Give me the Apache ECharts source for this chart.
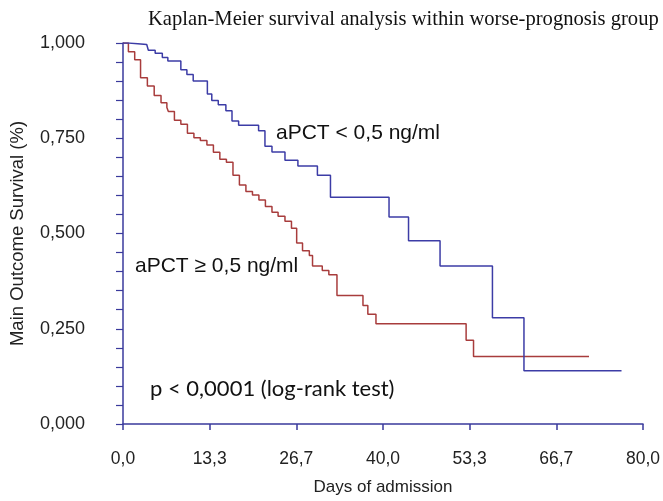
<!DOCTYPE html>
<html>
<head>
<meta charset="utf-8">
<script src="https://cdn.jsdelivr.net/npm/echarts@6/dist/echarts.min.js"></script>
<style>html,body{margin:0;padding:0;background:#fff}#c{width:663px;height:501px}</style>
</head>
<body>
<div id="c"></div>
<script>
// Data (days, survival proportion)
var lowDays = [0, 0.9, 3.65, 3.9, 4.95, 6.05, 6.9, 8.9, 9.83, 10.8, 12.98, 13.66, 14.66, 15.83, 16.77, 17.79, 20.86, 21.84, 22.92, 24.92, 26.91, 29.91, 31.92, 40.93, 43.93, 48.78, 56.84, 61.69, 76.7];
var lowSurv = [1.000, 0.996, 0.991, 0.981, 0.973, 0.962, 0.953, 0.930, 0.917, 0.900, 0.866, 0.849, 0.838, 0.822, 0.795, 0.784, 0.770, 0.729, 0.714, 0.692, 0.677, 0.653, 0.595, 0.543, 0.481, 0.415, 0.279, 0.140, 0.140];
var highDays = [0, 0.83, 1.8, 2.7, 3.75, 4.8, 5.85, 6.75, 6.98, 7.91, 8.9, 9.91, 10.91, 11.9, 12.91, 13.91, 14.9, 15.91, 16.92, 17.91, 18.91, 19.92, 20.91, 21.91, 22.92, 23.86, 24.92, 25.92, 26.72, 27.62, 28.67, 29.16, 30.66, 31.67, 32.92, 36.92, 37.67, 38.92, 52.79, 53.93, 71.7];
var highSurv = [1.000, 0.977, 0.956, 0.909, 0.887, 0.862, 0.843, 0.831, 0.820, 0.797, 0.787, 0.763, 0.751, 0.744, 0.732, 0.713, 0.695, 0.687, 0.653, 0.627, 0.610, 0.601, 0.588, 0.571, 0.556, 0.545, 0.532, 0.514, 0.475, 0.455, 0.442, 0.415, 0.403, 0.392, 0.337, 0.311, 0.288, 0.263, 0.220, 0.177, 0.177];
var xTickLabels = ['0,0', '13,3', '26,7', '40,0', '53,3', '66,7', '80,0'];
var yTickLabels = ['0,000', '0,250', '0,500', '0,750', '1,000'];
var titleText = 'Kaplan-Meier survival analysis within worse-prognosis group';
var lowLabel = 'aPCT < 0,5 ng/ml';
var highLabel = 'aPCT \u2265 0,5 ng/ml';
var pLabel = 'p < 0,0001 (log-rank test)';

function zip(a, b) { return a.map(function (v, i) { return [v, b[i]]; }); }

var axisBlue = '#3a3a9c';
var chart = echarts.init(document.getElementById('c'), null, { renderer: 'canvas' });
chart.setOption({
  animation: false,
  backgroundColor: '#ffffff',
  title: {
    text: titleText, left: 143, top: 4,
    textStyle: { fontFamily: 'Liberation Serif', fontSize: 20.6, fontWeight: 'normal', color: '#111' }
  },
  grid: { left: 119, right: 11, top: 43, bottom: 73, containLabel: false },
  xAxis: {
    type: 'value', min: 0, max: 80, interval: 80 / 6,
    name: 'Days of admission', nameLocation: 'middle', nameGap: 55,
    nameTextStyle: { fontFamily: 'Liberation Sans', fontSize: 17, color: '#222' },
    axisLine: { show: true, lineStyle: { color: axisBlue, width: 1.5 } },
    axisTick: { show: true, length: 6, lineStyle: { color: axisBlue, width: 1.5 } },
    axisLabel: {
      margin: 26, fontFamily: 'Liberation Sans', fontSize: 17.5, color: '#222',
      formatter: function (v) { return xTickLabels[Math.round(v / (80 / 6))]; }
    },
    splitLine: { show: false }
  },
  yAxis: {
    type: 'value', min: 0, max: 1, interval: 0.25,
    name: 'Main Outcome Survival (%)', nameLocation: 'middle', nameGap: 96,
    nameTextStyle: { fontFamily: 'Liberation Sans', fontSize: 18.5, color: '#222' },
    axisLine: { show: true, lineStyle: { color: axisBlue, width: 1.5 } },
    axisTick: { show: true, length: 7, lineStyle: { color: axisBlue, width: 1.2 } },
    minorTick: { show: true, splitNumber: 5, length: 7, lineStyle: { color: axisBlue, width: 1.2 } },
    axisLabel: {
      margin: 38, fontFamily: 'Liberation Sans', fontSize: 18, color: '#222',
      formatter: function (v) { return yTickLabels[Math.round(v / 0.25)]; }
    },
    splitLine: { show: false }
  },
  series: [
    {
      type: 'line', step: 'end', showSymbol: false, data: zip(lowDays, lowSurv),
      lineStyle: { color: '#3c3ca6', width: 1.5 }, z: 3
    },
    {
      type: 'line', step: 'end', showSymbol: false, data: zip(highDays, highSurv),
      lineStyle: { color: '#a83c3c', width: 1.5 }, z: 2
    }
  ],
  graphic: [
    { type: 'text', left: 276, top: 123, style: { text: lowLabel, fontFamily: 'Liberation Sans', fontSize: 21, fill: '#111' } },
    { type: 'text', left: 135, top: 256, style: { text: highLabel, fontFamily: 'Liberation Sans', fontSize: 21, fill: '#111' } },
    { type: 'text', left: 150, top: 378, style: { text: pLabel, fontFamily: 'Lato', fontSize: 22, fill: '#111' } }
  ]
});
</script>
</body>
</html>
